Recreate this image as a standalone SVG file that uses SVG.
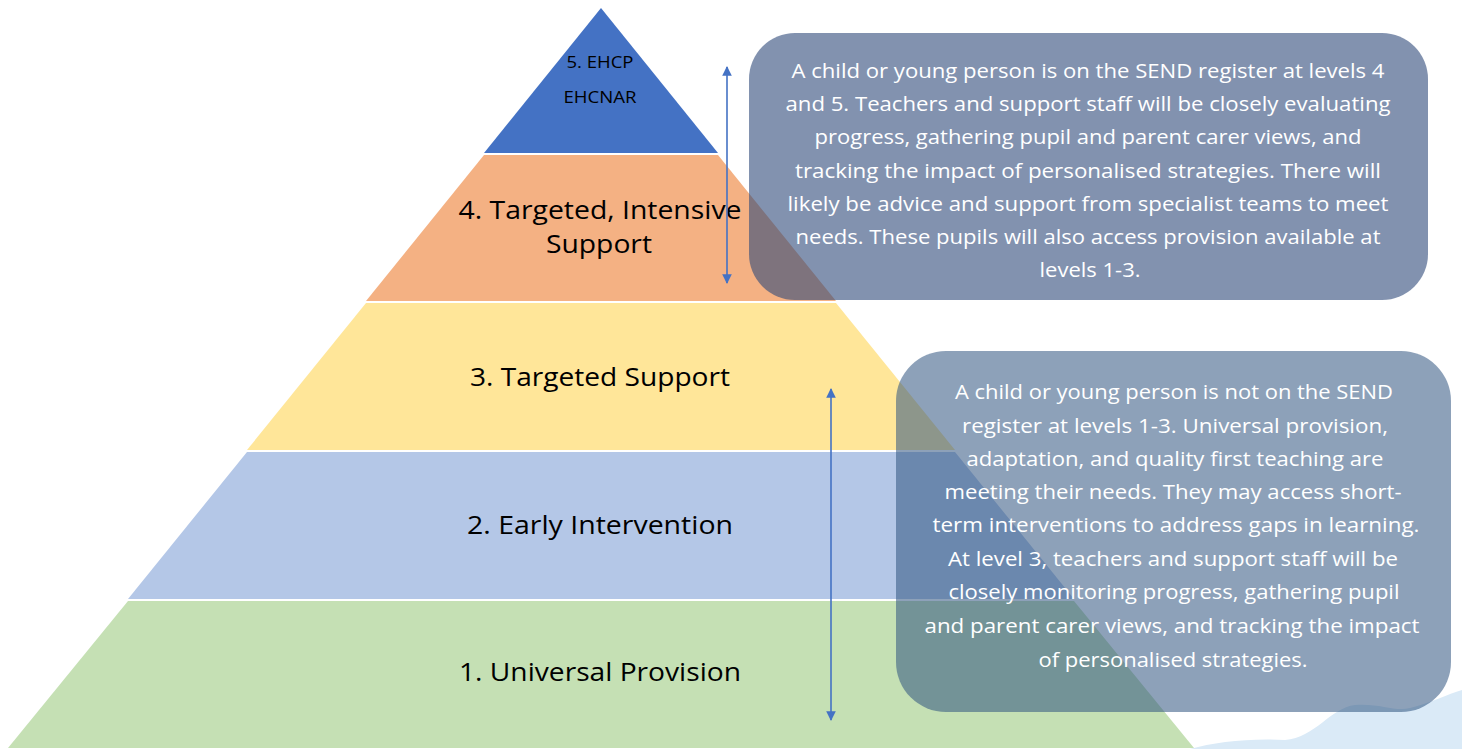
<svg xmlns="http://www.w3.org/2000/svg" width="1462" height="749" viewBox="0 0 1462 749">
<style>
.lbl{font-family:"Open Sans","Liberation Sans",sans-serif;fill:#000;text-anchor:middle}
.big{font-size:25px}
.small{font-size:16px}
.note{font-family:"Open Sans","Liberation Sans",sans-serif;fill:#fff;font-size:20px;text-anchor:middle}
.conn{stroke:#4472C4;stroke-width:1.6;fill:none;marker-start:url(#ah);marker-end:url(#ah)}
</style>
<defs>
<marker id="ah" viewBox="0 0 10 10" refX="9" refY="5" markerWidth="7" markerHeight="6" orient="auto-start-reverse" markerUnits="strokeWidth">
<path d="M0,0 L10,5 L0,10 z" fill="#4472C4"/>
</marker>
</defs>
<rect width="1462" height="749" fill="#fff"/>
<path id="wave" d="M1190,749 C1215,742 1250,738 1285,740 C1315,738 1330,708 1355,705 C1380,703 1395,712 1410,708 C1430,703 1448,694 1462,690 L1462,749 Z" fill="#DAEAF7"/>
<g id="level5">
<polygon points="601,8 718,153 484,153" fill="#4472C4"/>
<text class="lbl small" x="600" y="68" textLength="67" lengthAdjust="spacingAndGlyphs">5. EHCP</text>
<text class="lbl small" x="600" y="103" textLength="73" lengthAdjust="spacingAndGlyphs">EHCNAR</text>
</g>
<g id="level4">
<polygon points="484,155 718,155 836,301 366,301" fill="#F4B183"/>
<text class="lbl big" x="600" y="219" textLength="283" lengthAdjust="spacingAndGlyphs">4. Targeted, Intensive</text>
<text class="lbl big" x="599" y="253" textLength="106" lengthAdjust="spacingAndGlyphs">Support</text>
</g>
<g id="level3">
<polygon points="366,303 836,303 955,450 247,450" fill="#FFE699"/>
<text class="lbl big" x="600" y="386" textLength="260" lengthAdjust="spacingAndGlyphs">3. Targeted Support</text>
</g>
<g id="level2">
<polygon points="247,452 955,452 1074,599 128,599" fill="#B4C7E7"/>
<text class="lbl big" x="600" y="534" textLength="266" lengthAdjust="spacingAndGlyphs">2. Early Intervention</text>
</g>
<g id="level1">
<polygon points="128,601 1074,601 1194,748 8,748" fill="#C5E0B4"/>
<text class="lbl big" x="600" y="681" textLength="282" lengthAdjust="spacingAndGlyphs">1. Universal Provision</text>
</g>
<g id="connectors">
<line class="conn" x1="727" y1="67" x2="727" y2="283"/>
<line class="conn" x1="831" y1="389" x2="831" y2="720"/>
</g>
<g id="note-upper">
<rect x="749" y="33" width="679" height="267" rx="46" fill="#2F4A7A" fill-opacity="0.6"/>
<text class="note" x="1088" y="78" textLength="593" lengthAdjust="spacingAndGlyphs">A child or young person is on the SEND register at levels 4</text>
<text class="note" x="1088" y="111" textLength="605" lengthAdjust="spacingAndGlyphs">and 5. Teachers and support staff will be closely evaluating</text>
<text class="note" x="1088" y="144" textLength="547" lengthAdjust="spacingAndGlyphs">progress, gathering pupil and parent carer views, and</text>
<text class="note" x="1088" y="178" textLength="586" lengthAdjust="spacingAndGlyphs">tracking the impact of personalised strategies. There will</text>
<text class="note" x="1088" y="211" textLength="601" lengthAdjust="spacingAndGlyphs">likely be advice and support from specialist teams to meet</text>
<text class="note" x="1088" y="244" textLength="585" lengthAdjust="spacingAndGlyphs">needs. These pupils will also access provision available at</text>
<text class="note" x="1090" y="277" textLength="101" lengthAdjust="spacingAndGlyphs">levels 1-3.</text>
</g>
<g id="note-lower">
<rect x="896" y="351" width="555" height="361" rx="50" fill="#2F5480" fill-opacity="0.55"/>
<text class="note" x="1174" y="399" textLength="438" lengthAdjust="spacingAndGlyphs">A child or young person is not on the SEND</text>
<text class="note" x="1175" y="433" textLength="426" lengthAdjust="spacingAndGlyphs">register at levels 1-3. Universal provision,</text>
<text class="note" x="1175" y="466" textLength="417" lengthAdjust="spacingAndGlyphs">adaptation, and quality first teaching are</text>
<text class="note" x="1173" y="499" textLength="457" lengthAdjust="spacingAndGlyphs">meeting their needs. They may access short-</text>
<text class="note" x="1176" y="532" textLength="487" lengthAdjust="spacingAndGlyphs">term interventions to address gaps in learning.</text>
<text class="note" x="1173" y="566" textLength="450" lengthAdjust="spacingAndGlyphs">At level 3, teachers and support staff will be</text>
<text class="note" x="1174" y="599" textLength="451" lengthAdjust="spacingAndGlyphs">closely monitoring progress, gathering pupil</text>
<text class="note" x="1172" y="633" textLength="495" lengthAdjust="spacingAndGlyphs">and parent carer views, and tracking the impact</text>
<text class="note" x="1173" y="667" textLength="269" lengthAdjust="spacingAndGlyphs">of personalised strategies.</text>
</g>
</svg>
